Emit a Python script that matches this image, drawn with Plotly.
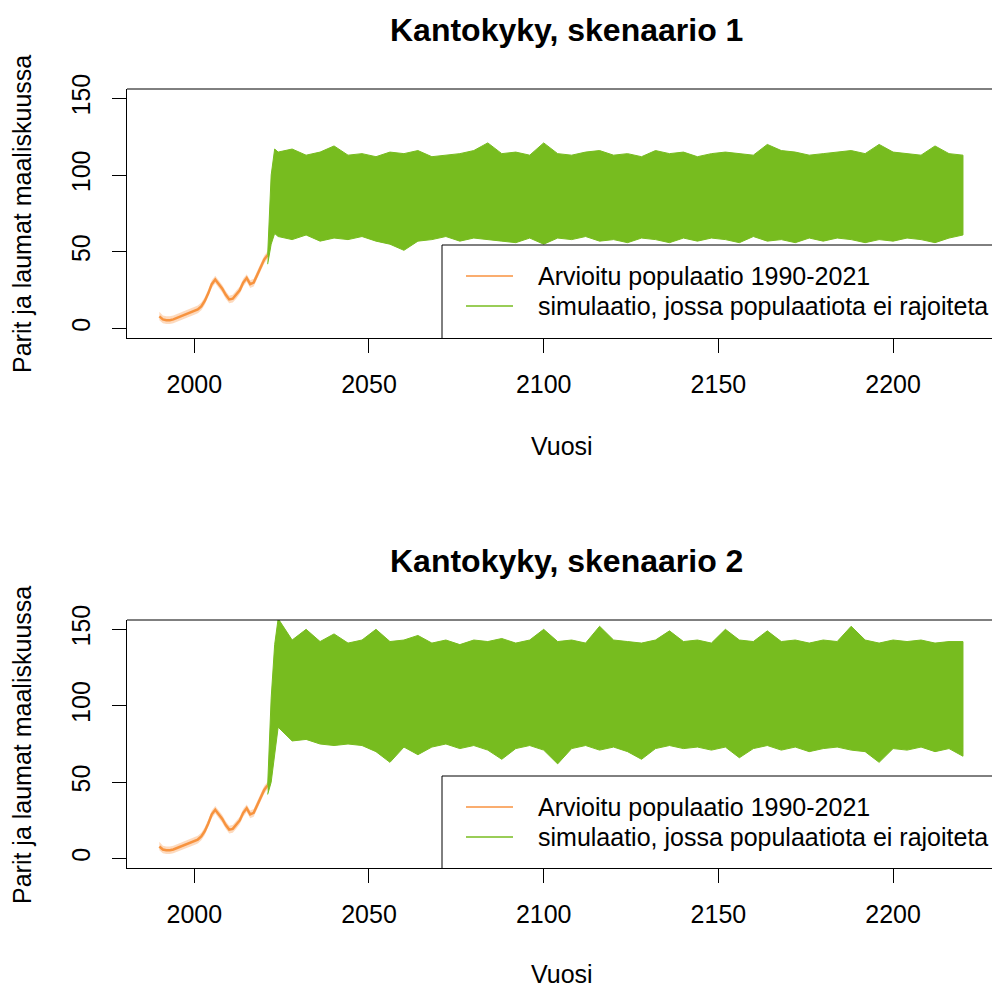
import plotly.graph_objects as go

# ---------------- data ----------------
YEARS_OBS = list(range(1990, 2022))
OBS_MID = [8, 6, 5.5, 5.5, 6, 7, 7.5, 8.5, 9.5, 10.5, 11.5, 12.5, 14.5, 18, 23, 29,
           32, 29, 26, 22, 19, 19.5, 22, 25, 30, 33, 29, 30, 35, 40, 45, 48]
OBS_LOW = [5.5, 3.5, 3, 3, 3.5, 4.5, 5, 6, 7, 8, 9, 10, 12, 15.5, 20.5, 26.5,
           29.5, 26.5, 23.5, 19.5, 16.5, 17, 19.5, 22.5, 27.5, 30.5, 26.5, 27.5, 32.5, 37.5, 42.5, 45.5]
OBS_HIGH = [11, 8.5, 8, 8, 8.5, 9.5, 10, 11, 12, 13, 14, 15, 17, 20.5, 25.5, 31.5,
            34.5, 31.5, 28.5, 24.5, 21.5, 22, 24.5, 27.5, 32.5, 35.5, 31.5, 32.5, 37.5, 42.5, 47.5, 50.5]

YEARS_SIM = [2021, 2022, 2023] + list(range(2024, 2221, 4))

S1_UPPER = [48, 100, 117,
            115, 117, 113, 115, 119, 113, 114, 112, 115, 114,
            116, 112, 113, 114, 116, 121, 114, 115, 113, 121,
            114, 113, 115, 116, 113, 114, 112, 116, 114, 115,
            112, 114, 115, 114, 113, 120, 116, 115, 113, 114,
            115, 116, 114, 120, 115, 114, 113, 119, 114, 113]
S1_LOWER = [42, 55, 62,
            60, 58, 61, 57, 59, 58, 60, 57, 55, 51,
            57, 58, 60, 57, 59, 58, 57, 56, 59, 55,
            59, 58, 60, 57, 58, 56, 59, 58, 56, 59,
            57, 59, 58, 56, 60, 57, 58, 56, 59, 57,
            59, 58, 56, 58, 57, 59, 58, 56, 59, 61]

S2_UPPER = [48, 105, 140,
            157, 143, 150, 142, 147, 141, 143, 150, 142, 143,
            146, 141, 143, 140, 143, 142, 144, 141, 143, 150,
            142, 143, 141, 152, 143, 142, 141, 143, 149, 142,
            143, 141, 150, 143, 142, 149, 142, 143, 141, 143,
            142, 152, 143, 141, 143, 142, 143, 141, 142, 142]
S2_LOWER = [42, 50, 68,
            86, 77, 78, 75, 74, 75, 74, 70, 63, 73,
            68, 73, 75, 72, 74, 71, 65, 72, 74, 71,
            62, 72, 74, 71, 73, 70, 65, 72, 74, 72,
            73, 71, 73, 66, 72, 74, 71, 73, 70, 72,
            73, 71, 70, 63, 72, 71, 73, 70, 72, 67]

for arr in (S1_UPPER, S1_LOWER, S2_UPPER, S2_LOWER):
    assert len(arr) == len(YEARS_SIM), len(arr)

TITLES = ["Kantokyky, skenaario 1", "Kantokyky, skenaario 2"]
Y_TICKS = [0, 50, 100, 150]
X_TICKS = [2000, 2050, 2100, 2150, 2200]
LEGEND_LABELS = ["Arvioitu populaatio 1990-2021", "simulaatio, jossa populaatiota ei rajoiteta"]

# ---------------- styling ----------------
W, H = 992, 989
ML, MR, MT, MB = 127, 0, 89, 121
PW, PH = W - ML - MR, H - MT - MB
FONT = "Liberation Sans, Arial, sans-serif"
GREEN = "#77BC1F"
ORANGE_LINE = "rgba(246,134,40,0.85)"
ORANGE_FILL = "rgba(248,150,70,0.35)"
ORANGE_LEG = "#F8923F"
OFFSET = 531  # pixel offset between panels


def px(x):
    return (x - ML) / PW


def py(y):
    return (MT + PH - y) / PH


fig = go.Figure()

panels = [(S1_UPPER, S1_LOWER, "x", "y"), (S2_UPPER, S2_LOWER, "x2", "y2")]
for up, lo, xa, ya in panels:
    fig.add_trace(go.Scatter(
        x=YEARS_OBS + YEARS_OBS[::-1], y=OBS_HIGH + OBS_LOW[::-1],
        fill="toself", fillcolor=ORANGE_FILL, line=dict(width=0),
        mode="lines", hoverinfo="skip", showlegend=False, xaxis=xa, yaxis=ya))
    fig.add_trace(go.Scatter(
        x=YEARS_OBS, y=OBS_MID, mode="lines",
        line=dict(color=ORANGE_LINE, width=2.5),
        showlegend=False, xaxis=xa, yaxis=ya))
    fig.add_trace(go.Scatter(
        x=YEARS_SIM + YEARS_SIM[::-1], y=up + lo[::-1],
        fill="toself", fillcolor=GREEN, line=dict(color=GREEN, width=1),
        mode="lines", showlegend=False, xaxis=xa, yaxis=ya))

XRANGE = [1980.74, 1980.74 + PW / 3.494]
YRANGE = [-6.1, 156.1]

top_dom = [py(338), 1.0]
bot_dom = [0.0, py(620)]

xcommon = dict(range=XRANGE, tickvals=X_TICKS, ticks="outside", ticklen=14,
               tickwidth=1, tickcolor="black", showline=True, linecolor="black",
               linewidth=1, mirror=False, showgrid=False, zeroline=False,
               tickfont=dict(family=FONT, size=25, color="black"),
               ticklabelstandoff=10)
ycommon = dict(range=YRANGE, tickvals=Y_TICKS, ticks="outside", ticklen=14,
               tickwidth=1, tickcolor="black", showline=True, linecolor="black",
               linewidth=1, mirror=False, showgrid=False, zeroline=False,
               tickangle=-90, tickfont=dict(family=FONT, size=25, color="black"),
               ticklabelstandoff=12)

fig.update_layout(
    width=W, height=H,
    margin=dict(l=ML, r=MR, t=MT, b=MB),
    plot_bgcolor="white", paper_bgcolor="white",
    showlegend=False,
    xaxis=dict(domain=[0, 1], anchor="y", **xcommon),
    yaxis=dict(domain=top_dom, anchor="x", **ycommon),
    xaxis2=dict(domain=[0, 1], anchor="y2", **xcommon),
    yaxis2=dict(domain=bot_dom, anchor="x2", **ycommon),
)

shapes = []
annotations = []
for i, off in enumerate([0, OFFSET]):
    # top border of plot box
    shapes.append(dict(type="line", xref="paper", yref="paper",
                       x0=px(127), x1=1.01, y0=py(89 + off), y1=py(89 + off),
                       line=dict(color="black", width=1)))
    # legend box (left and top edges, bottom rests on axis)
    shapes.append(dict(type="line", xref="paper", yref="paper",
                       x0=px(442), x1=px(442), y0=py(338 + off), y1=py(245 + off),
                       line=dict(color="black", width=1)))
    shapes.append(dict(type="line", xref="paper", yref="paper",
                       x0=px(442), x1=1.01, y0=py(245 + off), y1=py(245 + off),
                       line=dict(color="black", width=1)))
    for j, (col, ly) in enumerate([(ORANGE_LEG, 276), (GREEN, 306)]):
        shapes.append(dict(type="line", xref="paper", yref="paper",
                           x0=px(466), x1=px(513), y0=py(ly + off), y1=py(ly + off),
                           line=dict(color=col, width=1.5)))
        annotations.append(dict(text=LEGEND_LABELS[j], xref="paper", yref="paper",
                                x=px(536), y=py(ly + off), xanchor="left", yanchor="middle",
                                showarrow=False, font=dict(family=FONT, size=25, color="black")))
    # titles
    annotations.append(dict(text="<b>" + TITLES[i] + "</b>", xref="paper", yref="paper",
                            x=px(566), y=py(30 + off), xanchor="center", yanchor="middle",
                            showarrow=False, font=dict(family=FONT, size=32, color="black")))
    # axis titles
    annotations.append(dict(text="Vuosi", xref="paper", yref="paper",
                            x=px(562), y=py(446 + off - (3 if i else 0)), xanchor="center",
                            yanchor="middle", showarrow=False,
                            font=dict(family=FONT, size=25, color="black")))
    annotations.append(dict(text="Parit ja laumat maaliskuussa", xref="paper", yref="paper",
                            x=px(22), y=py(214 + off), xanchor="center", yanchor="middle",
                            textangle=-90, showarrow=False,
                            font=dict(family=FONT, size=25, color="black")))

fig.update_layout(shapes=shapes, annotations=annotations)
fig.write_html("out.html")
